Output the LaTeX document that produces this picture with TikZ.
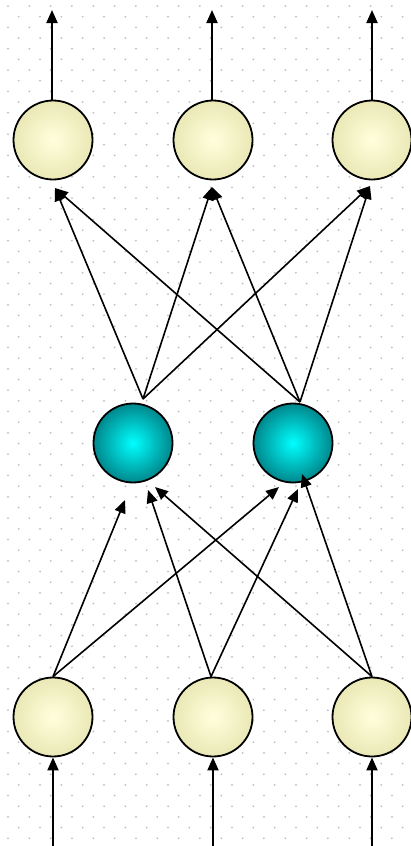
\documentclass[tikz,border=0pt]{standalone}
\usetikzlibrary{arrows.meta}
\definecolor{ioedge}{RGB}{234,232,182}
\definecolor{iocenter}{RGB}{255,255,220}
\definecolor{hidedge}{RGB}{0,135,140}
\definecolor{hidcenter}{RGB}{0,255,255}
\definecolor{griddot}{RGB}{190,190,190}
\begin{document}
\begin{tikzpicture}[x=1pt,y=-1pt,
  neuron/.style={circle, draw=black, line width=1.8pt, minimum size=79pt, inner sep=0pt},
  io/.style={neuron, inner color=iocenter, outer color=ioedge},
  hid/.style={neuron, inner color=hidcenter, outer color=hidedge},
  arr/.style={-{Triangle[length=13pt,width=11pt]}, line width=1.6pt},
  varr/.style={-{Triangle[length=13pt,width=11pt]}, line width=2pt},
]
\useasboundingbox (0,0) rectangle (411,846);
\fill[white] (0,0) rectangle (411,846);
% dotted background grid
\foreach \r in {0,...,79}{
  \pgfmathsetmacro{\yy}{6+10.67*\r}
  \pgfmathsetmacro{\xo}{mod(\r,2)==0 ? 8 : 18.7}
  \foreach \c in {0,...,19}{
    \fill[griddot] ({\xo+21.33*\c},\yy) circle (1pt);
  }
}
% neurons
\node[io] (o1) at (53,140) {};
\node[io] (o2) at (213,140) {};
\node[io] (o3) at (372,140) {};
\node[hid] (h1) at (133,443) {};
\node[hid] (h2) at (293,443) {};
\node[io] (i1) at (53,717) {};
\node[io] (i2) at (213,717) {};
\node[io] (i3) at (372,717) {};
% free ends
\coordinate (t1) at (52,10);
\coordinate (t2) at (212,10);
\coordinate (t3) at (372,10);
\coordinate (b1) at (53,846);
\coordinate (b2) at (213,846);
\coordinate (b3) at (372,846);
% outputs and inputs
\draw[varr] ([xshift=-1pt]o1.north) -- (t1);
\draw[varr] ([xshift=-1pt]o2.north) -- (t2);
\draw[varr] (o3.north) -- (t3);
\draw[varr] (b1) -- (i1.south);
\draw[varr] (b2) -- (i2.south);
\draw[varr] (b3) -- (i3.south);
% input -> hidden
\draw[arr] (i1.north) -- ([shift={(-8,57)}]h1.center);
\draw[arr] ([xshift=-2pt]i2.north) -- ([shift={(15,47)}]h1.center);
\draw[arr] (i3.north) -- ([shift={(22,44)}]h1.center);
\draw[arr] (i1.north) -- ([shift={(-14,44)}]h2.center);
\draw[arr] ([xshift=-2pt]i2.north) -- ([shift={(5,46)}]h2.center);
\draw[arr] (i3.north) -- ([shift={(9,31)}]h2.center);
% hidden -> output
\draw[arr] ([shift={(10,-44)}]h1.center) -- ([shift={(2,48)}]o1.center);
\draw[arr] ([shift={(10,-44)}]h1.center) -- ([shift={(-1,47)}]o2.center);
\draw[arr] ([shift={(10,-44)}]h1.center) -- ([shift={(-2,46)}]o3.center);
\draw[arr] ([shift={(7,-41)}]h2.center) -- ([shift={(2,48)}]o1.center);
\draw[arr] ([shift={(7,-41)}]h2.center) -- ([shift={(-1,47)}]o2.center);
\draw[arr] ([shift={(7,-41)}]h2.center) -- ([shift={(-2,46)}]o3.center);
\end{tikzpicture}
\end{document}
